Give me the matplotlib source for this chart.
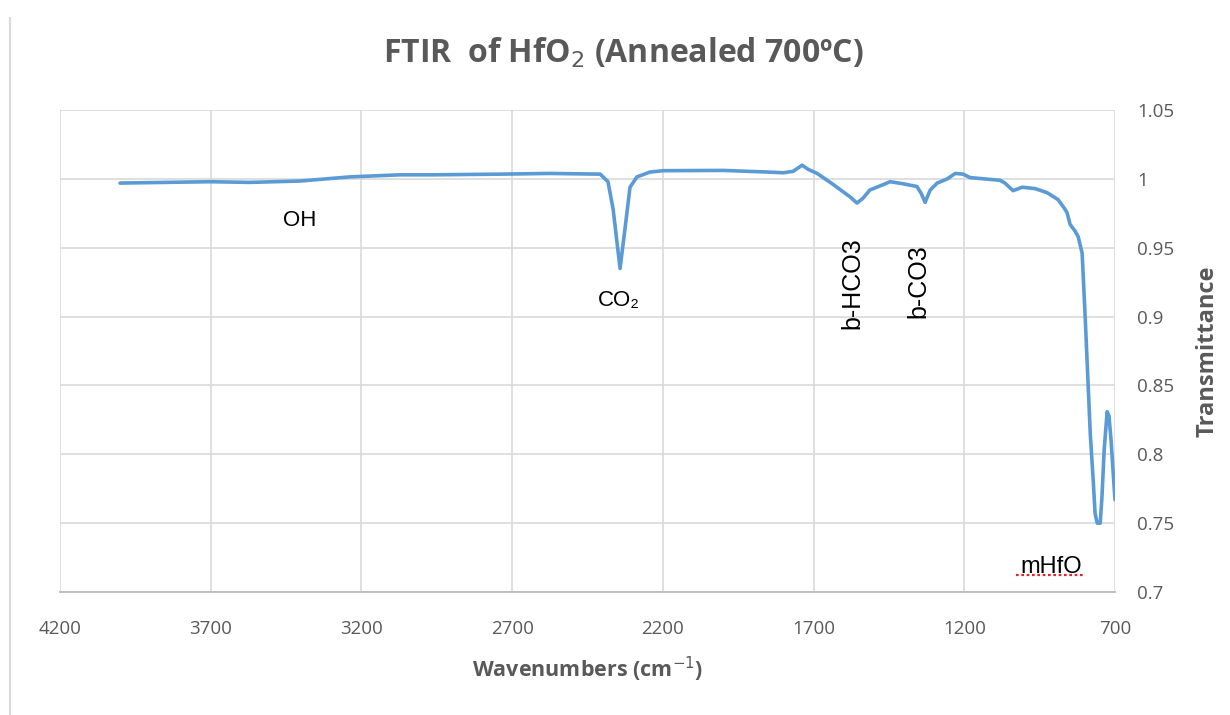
import matplotlib
matplotlib.use("Agg")
import matplotlib.pyplot as plt
from matplotlib.lines import Line2D

# ---- data ----
wavenumber = [4001, 3702, 3570, 3404, 3238, 3072, 2962, 2740, 2574, 2408, 2382, 2365,
              2342, 2325, 2309, 2286, 2243, 2199, 2000, 1850, 1801, 1768, 1738,
              1718, 1688, 1635, 1579, 1556, 1536, 1513, 1479, 1446, 1403, 1357,
              1343, 1330, 1313, 1290, 1257, 1230, 1204, 1181, 1131, 1081, 1065,
              1038, 1008, 965, 925, 889, 869, 859, 849, 832, 822, 809, 799, 782,
              772, 766, 759, 749, 743, 736, 726, 720, 713, 707, 700]
transmittance = [0.997, 0.998, 0.9975, 0.9985, 1.0015, 1.003, 1.003, 1.0035, 1.004,
                 1.0035, 0.998, 0.978, 0.935, 0.965, 0.994, 1.0015, 1.005, 1.006,
                 1.0062, 1.005, 1.0045, 1.0055, 1.010, 1.007, 1.004, 0.996, 0.987,
                 0.9825, 0.986, 0.992, 0.995, 0.998, 0.9965, 0.9945, 0.9895, 0.983,
                 0.992, 0.997, 1.000, 1.004, 1.0035, 1.001, 1.000, 0.999, 0.997,
                 0.9915, 0.994, 0.993, 0.990, 0.985, 0.979, 0.9755, 0.967, 0.962,
                 0.958, 0.946, 0.900, 0.815, 0.780, 0.757, 0.750, 0.750, 0.770,
                 0.803, 0.831, 0.828, 0.810, 0.790, 0.767]

x_ticks = [4200, 3700, 3200, 2700, 2200, 1700, 1200, 700]
y_ticks = [0.7, 0.75, 0.8, 0.85, 0.9, 0.95, 1.0, 1.05]
y_tick_labels = ["0.7", "0.75", "0.8", "0.85", "0.9", "0.95", "1", "1.05"]

annot_text = ["OH", "CO₂", "b-HCO3", "b-CO3", "mHfO"]
annot_x = [3404, 2345, 1572, 1353, 912]
annot_y = [0.970, 0.912, 0.924, 0.926, 0.7185]
annot_rot = [0, 0, 90, 90, 0]
annot_size = [16, 16, 18, 18, 17]

TEXT = "#595959"
LINE = "#5B9BD5"
GRID = "#D9D9D9"

plt.rcParams['font.family'] = ['Open Sans', 'DejaVu Sans']

fig = plt.figure(figsize=(12.3, 7.15), dpi=100)
ax = fig.add_axes([0.0488, 0.172, 0.8577, 0.674])

ax.plot(wavenumber, transmittance, color=LINE, lw=2.6, solid_joinstyle='round',
        solid_capstyle='round')

ax.set_xlim(4200, 700)
ax.set_ylim(0.7, 1.05)
ax.set_xticks(x_ticks)
ax.set_xticklabels([str(v) for v in x_ticks])
ax.set_yticks(y_ticks)
ax.set_yticklabels(y_tick_labels)
ax.yaxis.tick_right()
ax.yaxis.set_label_position("right")
ax.tick_params(axis='both', length=0, labelsize=13.5, labelcolor=TEXT)
ax.tick_params(axis='x', pad=20)
ax.tick_params(axis='y', pad=16)

ax.grid(True, color=GRID, lw=1.2)
ax.set_axisbelow(True)
for side in ['top', 'right', 'left']:
    ax.spines[side].set_visible(False)
ax.spines['bottom'].set_color("#BFBFBF")
ax.spines['bottom'].set_linewidth(1.4)

ax.set_xlabel("Wavenumbers (cm$^{-1}$)", fontsize=15.5, color=TEXT,
              fontweight='bold', labelpad=12)
ax.set_ylabel("Transmittance", fontsize=17, color=TEXT, fontweight='bold',
              labelpad=15)

for t, xx, yy, r, s in zip(annot_text, annot_x, annot_y, annot_rot, annot_size):
    ax.text(xx, yy, t, fontsize=s, color="#000000", rotation=r,
            ha='center', va='center', family=['Liberation Sans', 'DejaVu Sans'])

# red spell-check underline under "mHfO"
fig.add_artist(Line2D([0.826, 0.881], [0.196, 0.196], transform=fig.transFigure,
                      color="#E8202A", lw=1.6, ls=(0, (1.2, 1.2))))

fig.text(0.507, 0.912, "FTIR  of HfO$_2$ (Annealed 700ºC)", fontsize=23,
         fontweight='bold', color=TEXT, ha='center', va='baseline')

fig.add_artist(Line2D([0.008, 0.008], [0.0, 0.975], transform=fig.transFigure,
                      color="#D9D9D9", lw=1.5))

fig.savefig("out.png", dpi=100)
